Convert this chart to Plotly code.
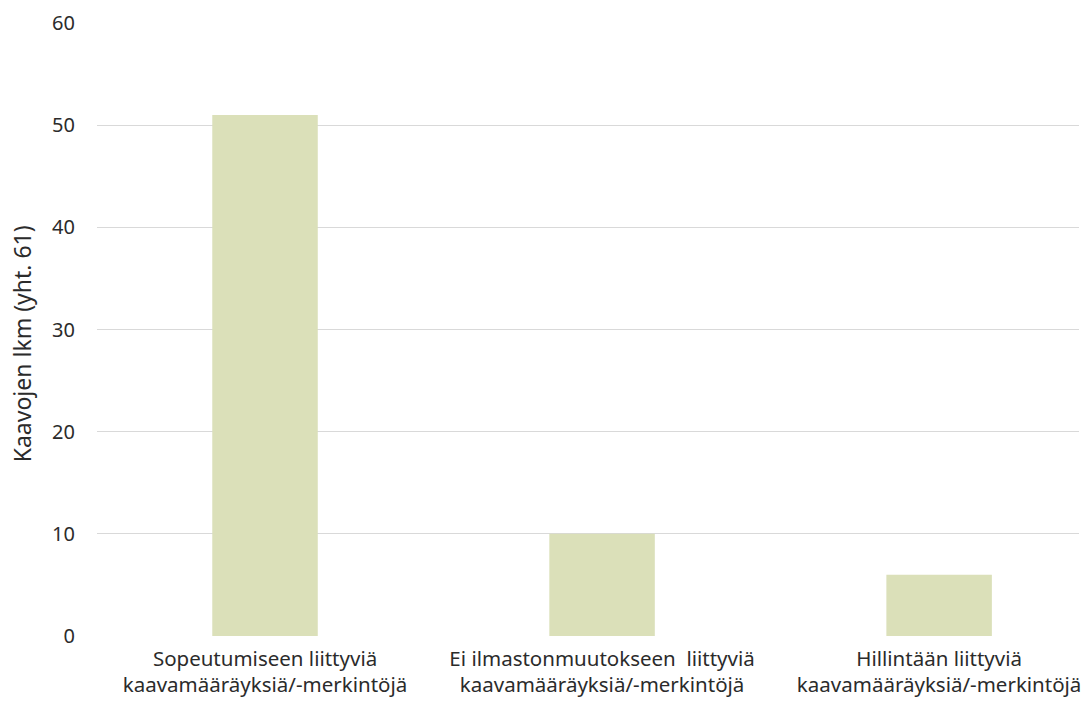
import plotly.graph_objects as go

categories = [
    "Sopeutumiseen liittyviä<br>kaavamääräyksiä/-merkintöjä",
    "Ei ilmastonmuutokseen  liittyviä<br>kaavamääräyksiä/-merkintöjä",
    "Hillintään liittyviä<br>kaavamääräyksiä/-merkintöjä",
]
values = [51, 10, 6]
y_title = "Kaavojen lkm (yht. 61)"
y_ticks = [0, 10, 20, 30, 40, 50, 60]

W, H = 1089, 702
L, R, T, B = 97, 1079, 22.7, 635.7
FONT = "Noto Sans"
TXT = "#2b2b2b"

fig = go.Figure(go.Bar(
    x=[0, 1, 2], y=values,
    marker=dict(color="#DBE0B9", line=dict(width=0)),
    width=0.313,
))

fig.update_layout(
    width=W, height=H,
    margin=dict(l=L, r=W - R, t=T, b=H - B, autoexpand=False),
    plot_bgcolor="white", paper_bgcolor="white",
    showlegend=False,
    font=dict(family=FONT, size=20, color=TXT),
    xaxis=dict(
        range=[-0.4985, 2.415],
        tickmode="array", tickvals=[0, 1, 2], ticktext=categories,
        showgrid=False, zeroline=False, showline=False,
        ticks="", ticklabelstandoff=8,
        tickfont=dict(family=FONT, size=20.5, color=TXT),
        automargin=False,
    ),
    yaxis=dict(
        range=[0, 60],
        tickmode="array", tickvals=y_ticks,
        showgrid=True, gridcolor="#D9D9D9", gridwidth=1.3,
        zeroline=False, showline=False, ticks="",
        ticklabelstandoff=21,
        tickfont=dict(family=FONT, size=20, color=TXT),
        automargin=False,
    ),
    annotations=[dict(
        text=y_title, textangle=-90,
        xref="paper", yref="paper",
        x=(22 - L) / (R - L), y=(B - 344) / (B - T),
        xanchor="center", yanchor="middle",
        showarrow=False,
        font=dict(family=FONT, size=23, color=TXT),
    )],
)

fig.write_html("out.html")
